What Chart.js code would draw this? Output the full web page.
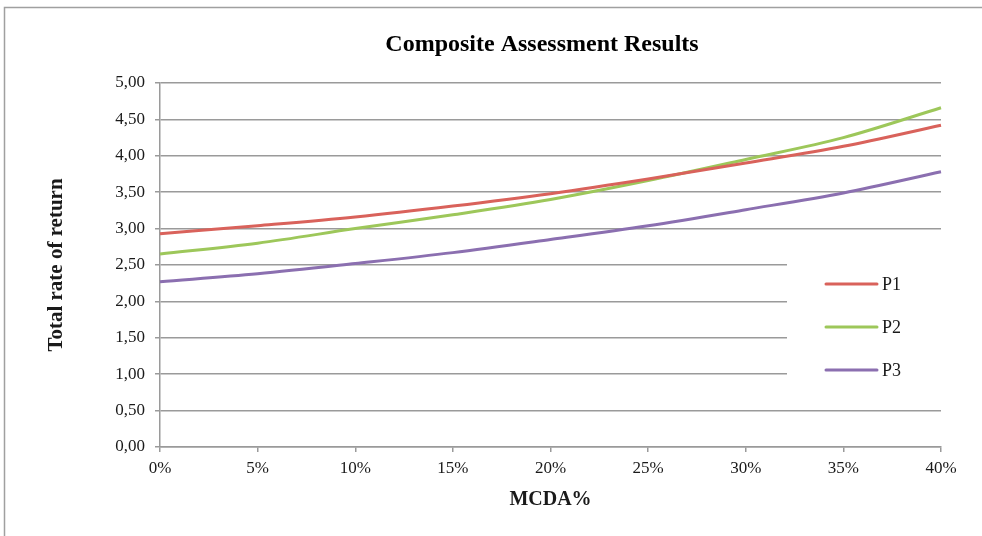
<!DOCTYPE html>
<html>
<head>
<meta charset="utf-8">
<script src="https://cdn.jsdelivr.net/npm/chart.js@4/dist/chart.umd.min.js"></script>
<style>
  html, body { margin: 0; padding: 0; background: #ffffff; }
  #wrap { width: 982px; height: 536px; position: relative; }
</style>
</head>
<body>
<div id="wrap"><canvas id="c" width="982" height="536"></canvas></div>
<script>
const categories = ['0%', '5%', '10%', '15%', '20%', '25%', '30%', '35%', '40%'];
const p1 = [2.93, 3.04, 3.16, 3.31, 3.48, 3.68, 3.90, 4.13, 4.42];
const p2 = [2.65, 2.80, 3.00, 3.19, 3.40, 3.66, 3.95, 4.25, 4.66];
const p3 = [2.27, 2.38, 2.52, 2.67, 2.85, 3.04, 3.26, 3.49, 3.78];
const seriesNames = ['P1', 'P2', 'P3'];
const seriesColors = ['#d9625b', '#9dc75a', '#8b6fb0'];
const chartTitle = 'Composite Assessment Results';
const xTitle = 'MCDA%';
const yTitle = 'Total rate of return';

const FONT = '"Liberation Serif", "Times New Roman", serif';

const framePlugin = {
  id: 'frame',
  beforeDraw(chart) {
    const ctx = chart.ctx;
    ctx.save();
    ctx.fillStyle = '#ffffff';
    ctx.fillRect(0, 0, chart.width, chart.height);
    ctx.strokeStyle = '#a0a0a0';
    ctx.lineWidth = 1.5;
    ctx.strokeRect(4.5, 7.5, chart.width + 20, chart.height + 20);
    ctx.restore();
  }
};

const titlePlugin = {
  id: 'customTitle',
  afterDraw(chart) {
    const ctx = chart.ctx;
    ctx.save();
    ctx.fillStyle = '#000000';
    ctx.font = 'bold 24px ' + FONT;
    ctx.textAlign = 'center';
    ctx.textBaseline = 'middle';
    ctx.fillText(chartTitle, 542, 45);
    ctx.restore();
  }
};

const legendPlugin = {
  id: 'insideLegend',
  afterDatasetsDraw(chart) {
    const ctx = chart.ctx;
    const area = chart.chartArea;
    const yScale = chart.scales.y;
    const boxLeft = 787;
    const boxRight = area.right;
    const boxTop = yScale.getPixelForValue(2.6);
    const boxBottom = yScale.getPixelForValue(0.6);
    ctx.save();
    ctx.fillStyle = '#ffffff';
    ctx.fillRect(boxLeft, boxTop, boxRight - boxLeft, boxBottom - boxTop);
    ctx.font = '18px ' + FONT;
    ctx.textBaseline = 'middle';
    ctx.textAlign = 'left';
    chart.data.datasets.forEach((ds, i) => {
      const y = 284 + i * 43;
      ctx.strokeStyle = ds.borderColor;
      ctx.lineWidth = 3;
      ctx.lineCap = 'round';
      ctx.beginPath();
      ctx.moveTo(826, y);
      ctx.lineTo(877, y);
      ctx.stroke();
      ctx.fillStyle = '#1a1a1a';
      ctx.fillText(ds.label, 882, y + 1);
    });
    ctx.restore();
  }
};

new Chart(document.getElementById('c'), {
  type: 'line',
  data: {
    labels: categories,
    datasets: [p1, p2, p3].map((d, i) => ({
      label: seriesNames[i],
      data: d,
      borderColor: seriesColors[i],
      backgroundColor: seriesColors[i],
      borderWidth: 3,
      pointRadius: 0,
      cubicInterpolationMode: 'monotone',
      fill: false
    }))
  },
  options: {
    responsive: false,
    animation: false,
    layout: { padding: { top: 83, right: 41, left: 0, bottom: 0 } },
    plugins: {
      legend: { display: false },
      title: { display: false },
      tooltip: { enabled: false }
    },
    scales: {
      x: {
        offset: false,
        grid: { display: true, drawOnChartArea: false, drawTicks: true, tickLength: 5, color: '#9a9a9a', lineWidth: 1.5 },
        border: { display: true, color: '#9a9a9a', width: 1.5 },
        ticks: { color: '#1a1a1a', font: { family: FONT, size: 17 }, padding: 6, maxRotation: 0, autoSkip: false },
        title: { display: true, text: xTitle, color: '#1a1a1a', font: { family: FONT, size: 20, weight: 'bold' }, padding: { top: 0, bottom: 24 } },
        afterFit(scale) { scale.height = 89; }
      },
      y: {
        min: 0,
        max: 5,
        grid: { display: true, color: '#9a9a9a', lineWidth: 1.5, drawTicks: true, tickLength: 5 },
        border: { display: true, color: '#9a9a9a', width: 1.5 },
        ticks: {
          stepSize: 0.5,
          color: '#1a1a1a',
          font: { family: FONT, size: 17 },
          padding: 10,
          callback: (v) => Number(v).toFixed(2).replace('.', ',')
        },
        title: { display: true, text: yTitle, color: '#1a1a1a', font: { family: FONT, size: 21, weight: 'bold' }, padding: { top: 44, bottom: 0 } },
        afterFit(scale) { scale.width = 160; }
      }
    }
  },
  plugins: [framePlugin, titlePlugin, legendPlugin]
});
</script>
</body>
</html>
